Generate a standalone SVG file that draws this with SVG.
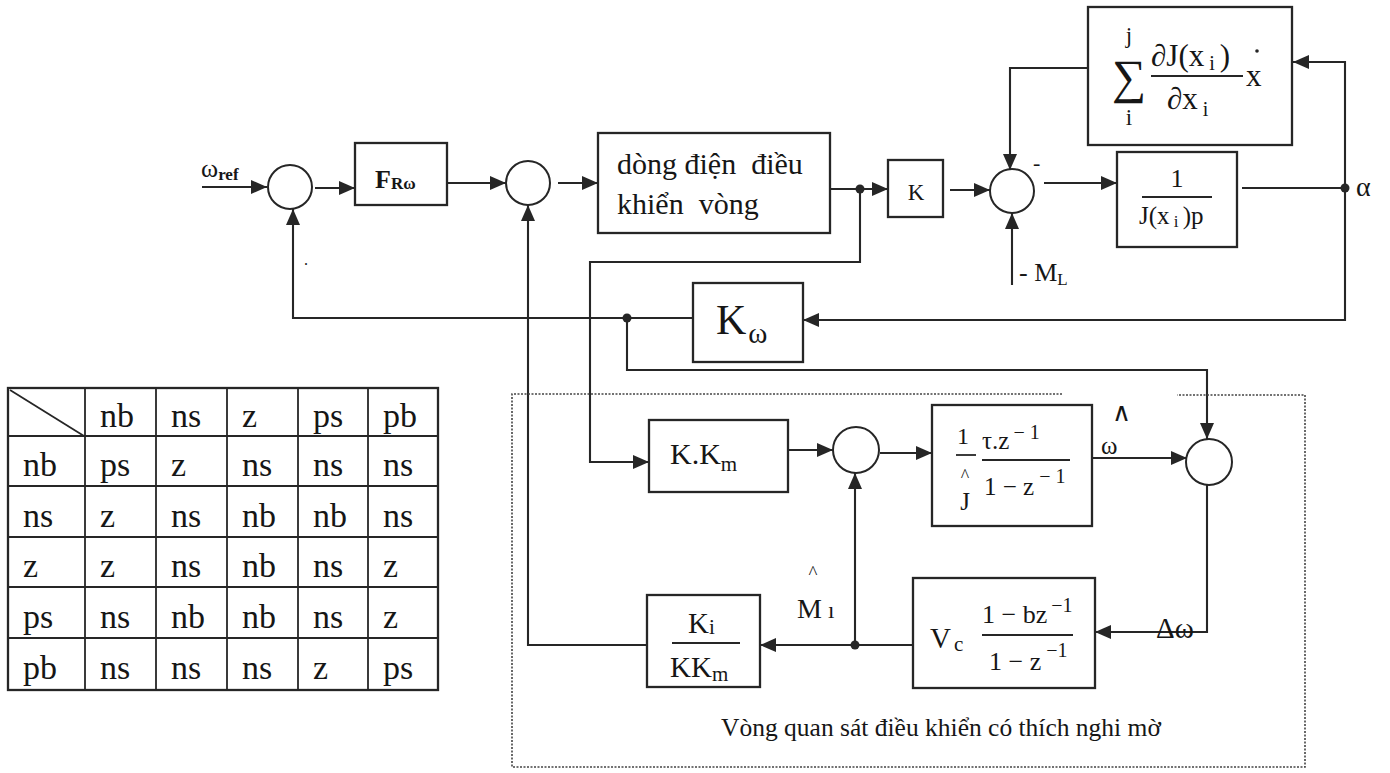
<svg xmlns="http://www.w3.org/2000/svg" width="1390" height="773" viewBox="0 0 1390 773">
<defs>
<marker id="ah" markerUnits="userSpaceOnUse" markerWidth="17" markerHeight="15" refX="16" refY="7" orient="auto">
<path d="M0,0 L16,7 L0,14 z" fill="#262626"/>
</marker>
<style>
.b{fill:none;stroke:#262626;stroke-width:2.3}
.c{fill:none;stroke:#262626;stroke-width:2}
.w{fill:none;stroke:#262626;stroke-width:2.1;marker-end:url(#ah)}
.l{fill:none;stroke:#262626;stroke-width:2.1}
.d{fill:#262626}
.t{font-family:"Liberation Serif","Times New Roman",serif;fill:#161616}
.dot{fill:none;stroke:#444;stroke-width:1.6;stroke-dasharray:2 1.5}
.g{fill:none;stroke:#262626;stroke-width:1.8}
</style>
</defs>
<rect x="0" y="0" width="1390" height="773" fill="#ffffff"/>

<g id="connectors">
<path class="w" d="M202,187 H267"/>
<path class="w" d="M315,188 H355"/>
<path class="w" d="M447,183 H506"/>
<path class="w" d="M558,183 H598"/>
<path class="w" d="M830,189 H888"/>
<path class="w" d="M950,190 H990"/>
<path class="w" d="M1044,183 H1117"/>
<path class="l" d="M1242,188 H1345"/>
<path class="w" d="M1345,188 V62 H1293"/>
<path class="w" d="M1345,188 V320 H803"/>
<path class="w" d="M1088,68 H1010 V170"/>
<path class="w" d="M1012,285 V213"/>
<path class="w" d="M693,318 H293 V209"/>
<path class="w" d="M627,318 V370 H1207 V439"/>
<path class="w" d="M860,189 V262 H590 V462 H649"/>
<path class="w" d="M647,645 H528 V205"/>
<path class="w" d="M788,450 H833"/>
<path class="w" d="M880,453 H932"/>
<path class="w" d="M1092,458 H1187"/>
<path class="w" d="M1207,485 V632 H1095"/>
<path class="w" d="M913,645 H760"/>
<path class="w" d="M855,645 V473"/>
<circle class="d" cx="860" cy="189" r="4.5"/>
<circle class="d" cx="1345" cy="188" r="4.5"/>
<circle class="d" cx="627" cy="318" r="4.5"/>
<circle class="d" cx="855" cy="645" r="4.5"/>
</g>

<g id="observer-frame">
<path class="dot" d="M1062,394 H512 V767 H1305 V395 H1177"/>
</g>

<g id="input-label">
<text class="t" x="201" y="177" font-size="26">ω<tspan font-size="17" font-weight="bold" dy="3">ref</tspan></text>
</g>

<g id="sum1">
<circle class="c" cx="290" cy="187" r="22"/>
<text class="t" x="304" y="265" font-size="16">.</text>
</g>

<g id="F">
<rect class="b" x="355" y="143" width="92" height="62"/>
<text class="t" x="375" y="188" font-size="26" font-weight="bold">F<tspan font-size="17" dy="1">Rω</tspan></text>
</g>

<g id="sum2">
<circle class="c" cx="528" cy="183" r="22"/>
</g>

<g id="current-loop">
<rect class="b" x="598" y="133" width="232" height="100"/>
<text class="t" x="617" y="174" font-size="30" style="white-space:pre">dòng điện  điều</text>
<text class="t" x="617" y="214" font-size="30" style="white-space:pre">khiển  vòng</text>
</g>

<g id="K">
<rect class="b" x="888" y="160" width="55" height="57"/>
<text class="t" x="916" y="200" font-size="23" text-anchor="middle">K</text>
</g>

<g id="sum3">
<circle class="c" cx="1012" cy="191" r="22"/>
<text class="t" x="1033" y="170" font-size="22">-</text>
<text class="t" x="1019" y="281" font-size="26">- M<tspan font-size="17" dy="4">L</tspan></text>
</g>

<g id="plant">
<rect class="b" x="1117" y="152" width="120" height="95"/>
<text class="t" x="1177" y="187" font-size="26" text-anchor="middle">1</text>
<line class="g" x1="1142" y1="197" x2="1212" y2="197"/>
<text class="t" x="1139" y="224" font-size="25">J(x<tspan font-size="17" dy="3"> i </tspan><tspan dy="-3">)p</tspan></text>
</g>

<g id="out-label">
<text class="t" x="1356" y="196" font-size="28">α</text>
</g>

<g id="sum-block">
<rect class="b" x="1088" y="7" width="204" height="138"/>
<text class="t" x="1129" y="93" font-size="48" text-anchor="middle">∑</text>
<text class="t" x="1129" y="43" font-size="23" text-anchor="middle">j</text>
<text class="t" x="1129" y="125" font-size="23" text-anchor="middle">i</text>
<text class="t" x="1151" y="66" font-size="31">∂J(x<tspan font-size="20" dy="4"> i </tspan><tspan dy="-4">)</tspan></text>
<line class="g" x1="1151" y1="76" x2="1243" y2="76"/>
<text class="t" x="1167" y="109" font-size="31">∂x<tspan font-size="20" dy="7"> i</tspan></text>
<text class="t" x="1246" y="86" font-size="31">x</text>
<circle class="d" cx="1257" cy="51" r="1.8"/>
</g>

<g id="Kw">
<rect class="b" x="693" y="283" width="110" height="79"/>
<text class="t" x="716" y="334" font-size="42">K<tspan font-size="29" dx="2" dy="9">ω</tspan></text>
</g>

<g id="KKm">
<rect class="b" x="649" y="420" width="139" height="72"/>
<text class="t" x="670" y="464" font-size="30">K.K<tspan font-size="21" dy="7">m</tspan></text>
</g>

<g id="sum5">
<circle class="c" cx="856" cy="450" r="23"/>
</g>

<g id="observer-model">
<rect class="b" x="932" y="405" width="160" height="121"/>
<text class="t" x="963" y="444" font-size="24" text-anchor="middle">1</text>
<line class="g" x1="956" y1="455" x2="976" y2="455"/>
<text class="t" x="965" y="482" font-size="18" text-anchor="middle">^</text>
<text class="t" x="965" y="510" font-size="25" text-anchor="middle">J</text>
<text class="t" x="982" y="449" font-size="25">τ.z<tspan font-size="20" dx="4" dy="-10">− 1</tspan></text>
<line class="g" x1="982" y1="460" x2="1070" y2="460"/>
<text class="t" x="984" y="495" font-size="25">1 − z<tspan font-size="20" dx="5" dy="-12">− 1</tspan></text>
</g>

<g id="what-label">
<text class="t" x="1112" y="421" font-size="26">∧</text>
<text class="t" x="1101" y="454" font-size="25">ω</text>
</g>

<g id="sum4">
<circle class="c" cx="1209" cy="462" r="23"/>
<text class="t" x="1156" y="638" font-size="29">Δω</text>
</g>

<g id="Vc">
<rect class="b" x="913" y="578" width="182" height="110"/>
<text class="t" x="930" y="648" font-size="29">V<tspan font-size="21" dx="3" dy="3">c</tspan></text>
<text class="t" x="982" y="623" font-size="26">1 − bz<tspan font-size="20" dx="4" dy="-11">−1</tspan></text>
<line class="g" x1="982" y1="635" x2="1073" y2="635"/>
<text class="t" x="989" y="670" font-size="26">1 − z<tspan font-size="20" dx="5" dy="-13">−1</tspan></text>
</g>

<g id="Mt-label">
<text class="t" x="813" y="579" font-size="19" text-anchor="middle">^</text>
<text class="t" x="797" y="618" font-size="28">M<tspan font-size="23" dx="6">ı</tspan></text>
</g>

<g id="Ki">
<rect class="b" x="647" y="595" width="113" height="92"/>
<text class="t" x="688" y="633" font-size="29">K<tspan font-size="21" dy="1">i</tspan></text>
<line class="g" x1="672" y1="643" x2="740" y2="643"/>
<text class="t" x="670" y="677" font-size="29">KK<tspan font-size="21" dy="4">m</tspan></text>
</g>

<g id="caption">
<text class="t" x="941" y="736" font-size="25.5" text-anchor="middle">Vòng quan sát điều khiển có thích nghi mờ</text>
</g>

<g id="rule-table" font-family="Liberation Serif, Times New Roman, serif" font-size="34" fill="#161616">
<rect class="b" x="8" y="388" width="430" height="302"/>
<path class="g" d="M85,388 V690 M156,388 V690 M227,388 V690 M298,388 V690 M368,388 V690 M8,436 H438 M8,486 H438 M8,537 H438 M8,587 H438 M8,638 H438"/>
<line class="g" x1="10" y1="390" x2="84" y2="436"/>
<text x="100" y="427">nb</text><text x="171" y="427">ns</text><text x="242" y="427">z</text><text x="313" y="427">ps</text><text x="383" y="427">pb</text>
<text x="23" y="476">nb</text><text x="100" y="476">ps</text><text x="171" y="476">z</text><text x="242" y="476">ns</text><text x="313" y="476">ns</text><text x="383" y="476">ns</text>
<text x="23" y="527">ns</text><text x="100" y="527">z</text><text x="171" y="527">ns</text><text x="242" y="527">nb</text><text x="313" y="527">nb</text><text x="383" y="527">ns</text>
<text x="23" y="577">z</text><text x="100" y="577">z</text><text x="171" y="577">ns</text><text x="242" y="577">nb</text><text x="313" y="577">ns</text><text x="383" y="577">z</text>
<text x="23" y="628">ps</text><text x="100" y="628">ns</text><text x="171" y="628">nb</text><text x="242" y="628">nb</text><text x="313" y="628">ns</text><text x="383" y="628">z</text>
<text x="23" y="679">pb</text><text x="100" y="679">ns</text><text x="171" y="679">ns</text><text x="242" y="679">ns</text><text x="313" y="679">z</text><text x="383" y="679">ps</text>
</g>
</svg>
